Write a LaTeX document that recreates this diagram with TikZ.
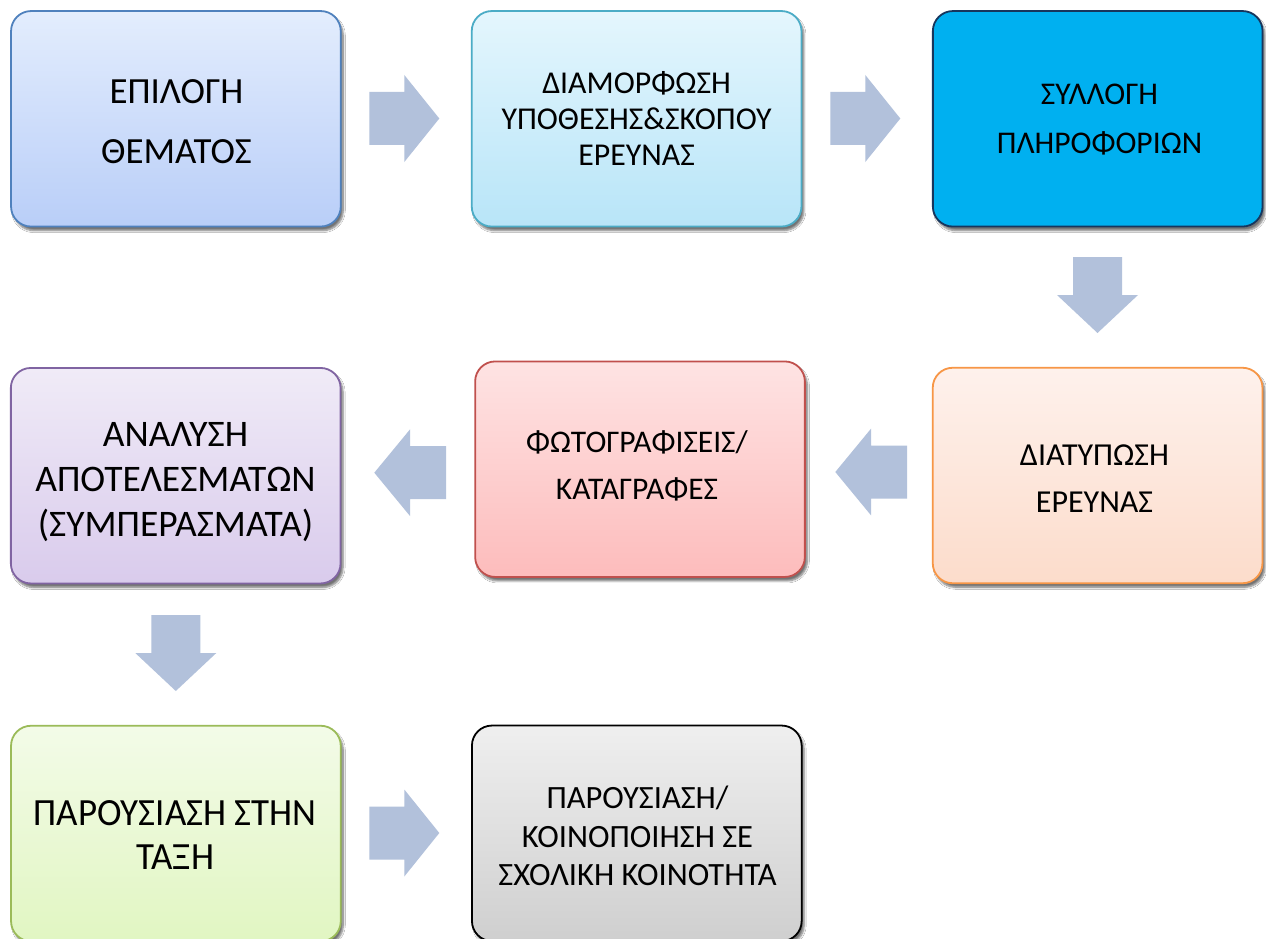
\documentclass[tikz,border=0pt]{standalone}
\usepackage{fontspec}
\setmainfont{Carlito}
\newfontfamily\narrowfont[FakeStretch=0.96]{Carlito}
\usetikzlibrary{shadows.blur}
\definecolor{arrowfill}{HTML}{B2C1DB}
\definecolor{bAtop}{HTML}{E3EDFD}\definecolor{bAbot}{HTML}{B9CEF8}\definecolor{bAline}{HTML}{4F81BD}
\definecolor{bBtop}{HTML}{E4F6FD}\definecolor{bBbot}{HTML}{B8E5F8}\definecolor{bBline}{HTML}{4BACC6}
\definecolor{bCfill}{HTML}{00B0F0}\definecolor{bCline}{HTML}{17365D}
\definecolor{bDtop}{HTML}{FEF1EC}\definecolor{bDbot}{HTML}{FCDCCB}\definecolor{bDline}{HTML}{F79646}
\definecolor{bEtop}{HTML}{FEE3E3}\definecolor{bEbot}{HTML}{FDBCBC}\definecolor{bEline}{HTML}{C0504D}
\definecolor{bFtop}{HTML}{F0EBF7}\definecolor{bFbot}{HTML}{D9CBEC}\definecolor{bFline}{HTML}{8064A2}
\definecolor{bGtop}{HTML}{F3FBE8}\definecolor{bGbot}{HTML}{E1F6C2}\definecolor{bGline}{HTML}{9BBB59}
\definecolor{bHtop}{HTML}{EFEFEF}\definecolor{bHbot}{HTML}{CFCFCF}\definecolor{bHline}{HTML}{000000}
\tikzset{
  box/.style={rectangle, rounded corners=20pt, line width=1.8pt,
    minimum width=329.7pt, minimum height=215.5pt, inner sep=0pt,
    blur shadow={shadow xshift=2.5pt, shadow yshift=-4pt, shadow blur radius=2pt,
      shadow blur steps=6, shadow opacity=55}},
  txt/.style={inner sep=0pt, align=center, text=black},
  harrow/.pic={\fill[arrowfill] (-35,-26.5) -- (0,-26.5) -- (0,-43.5) -- (35,0)
      -- (0,43.5) -- (0,26.5) -- (-35,26.5) -- cycle;},
  varrow/.pic={\fill[arrowfill] (-24.5,-38) -- (24.5,-38) -- (24.5,0) -- (40.5,0)
      -- (0,38) -- (-40.5,0) -- (-24.5,0) -- cycle;},
  larrow/.pic={\fill[arrowfill] (36,-26.5) -- (0,-26.5) -- (0,-43.3) -- (-35.7,0)
      -- (0,43.3) -- (0,26.5) -- (36,26.5) -- cycle;},
}
\begin{document}
\begin{tikzpicture}[x=1pt,y=-1pt]
\clip (0,0) rectangle (1266,939);
\fill[white] (0,0) rectangle (1266,939);
% boxes
\node[box, draw=bAline, top color=bAtop, bottom color=bAbot] (b1) at (175.9,118.8) {};
\node[box, draw=bBline, top color=bBtop, bottom color=bBbot] (b2) at (636.6,118.8) {};
\node[box, draw=bCline, fill=bCfill] (b3) at (1097.7,118.8) {};
\node[box, draw=bDline, top color=bDtop, bottom color=bDbot] (b4) at (1097.6,475.5) {};
\node[box, draw=bEline, top color=bEtop, bottom color=bEbot] (b5) at (640,469.2) {};
\node[box, draw=bFline, top color=bFtop, bottom color=bFbot] (b6) at (175.7,475.7) {};
\node[box, draw=bGline, top color=bGtop, bottom color=bGbot] (b7) at (175.9,833.5) {};
\node[box, draw=bHline, top color=bHtop, bottom color=bHbot] (b8) at (636.8,833.3) {};
% texts
\node[txt, font=\fontsize{36.9}{59.5}\selectfont] (t1) at (176.5,121.5) {ΕΠΙΛΟΓΗ\\ΘΕΜΑΤΟΣ};
\node[txt, font=\fontsize{31.8}{36}\selectfont] (t2) at (636.6,118.3) {ΔΙΑΜΟΡΦΩΣΗ\\ΥΠΟΘΕΣΗΣ\&ΣΚΟΠΟΥ\\ΕΡΕΥΝΑΣ};
\node[txt, font=\fontsize{31.6}{49}\selectfont] (t3) at (1099.5,120) {ΣΥΛΛΟΓΗ\\ΠΛΗΡΟΦΟΡΙΩΝ};
\node[txt, font=\fontsize{32}{47}\selectfont] (t4) at (1094.5,479) {ΔΙΑΤΥΠΩΣΗ\\ΕΡΕΥΝΑΣ};
\node[txt, font=\fontsize{31.5}{46.7}\selectfont] (t5) at (637,466) {ΦΩΤΟΓΡΑΦΙΣΕΙΣ/\\ΚΑΤΑΓΡΑΦΕΣ};
\node[txt, font=\fontsize{37.5}{45}\selectfont] (t6) at (175.5,482) {ΑΝΑΛΥΣΗ\\ΑΠΟΤΕΛΕΣΜΑΤΩΝ\\(ΣΥΜΠΕΡΑΣΜΑΤΑ)};
\node[txt, font=\narrowfont\fontsize{38.5}{44.5}\selectfont] (t7) at (175.2,835) {ΠΑΡΟΥΣΙΑΣΗ ΣΤΗΝ\\ΤΑΞΗ};
\node[txt, font=\fontsize{32.5}{38.5}\selectfont] (t8) at (637.5,836) {ΠΑΡΟΥΣΙΑΣΗ/\\ΚΟΙΝΟΠΟΙΗΣΗ ΣΕ\\ΣΧΟΛΙΚΗ ΚΟΙΝΟΤΗΤΑ};
% block arrows
\pic at (404.3,118.5) {harrow};
\pic at (865.3,118.5) {harrow};
\pic at (1097.5,295) {varrow};
\pic at (871,472) {larrow};
\pic at (410,472.7) {larrow};
\pic at (175.8,653) {varrow};
\pic at (404.3,833) {harrow};
\end{tikzpicture}
\end{document}
